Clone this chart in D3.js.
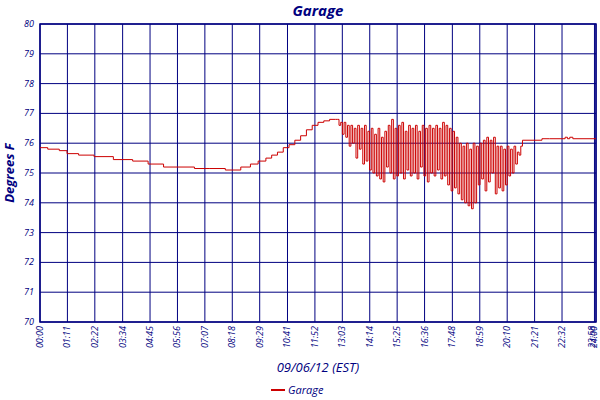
<!DOCTYPE html>
<html><head><meta charset="utf-8">
<script src="https://cdn.jsdelivr.net/npm/d3@7"></script>
<style>body{margin:0;background:#fff}text{font-family:"Open Sans",sans-serif;font-style:italic;fill:#000080}</style>
</head><body><div class="chart"></div>
<script>
// minutes since midnight, degrees F (smooth part)
var calmTimes = [0, 20, 50, 70, 100, 140, 190, 240, 280, 320, 360, 400, 440, 480, 520, 545, 565, 585, 600, 615, 630, 645, 660, 675, 690, 705, 720, 735, 750, 765];
var calmTemps = [75.85, 75.8, 75.75, 75.65, 75.6, 75.55, 75.45, 75.4, 75.3, 75.2, 75.2, 75.15, 75.15, 75.1, 75.2, 75.3, 75.4, 75.5, 75.6, 75.7, 75.85, 75.95, 76.1, 76.25, 76.45, 76.6, 76.7, 76.75, 76.8, 76.8];
// oscillating part, one reading every 4.4 minutes from 12:50
var swingStart = 770, swingStep = 4.4;
var swingTemps = [76.8, 76.6, 76.7, 76.3, 76.7, 76.2, 76.6, 75.9, 76.6, 76.0, 76.5, 75.5, 76.6, 75.8, 76.5, 75.3, 76.6, 75.4, 76.4, 75.1, 76.5, 75.0, 76.3, 74.9, 76.5, 74.8, 76.2, 74.7, 76.4, 75.2,
  76.6, 75.0, 76.8, 74.8, 76.5, 74.9, 76.6, 75.0, 76.7, 74.8, 76.4, 75.1, 76.6, 74.9, 76.5, 75.0, 76.6, 74.8, 76.4, 75.2, 76.6, 74.9, 76.5, 74.7, 76.6, 75.0, 76.5, 74.9, 76.6, 75.1,
  76.5, 74.8, 76.7, 74.9, 76.6, 74.6, 76.5, 74.4, 76.4, 74.5, 76.2, 74.3, 76.0, 74.1, 75.9, 74.0, 76.0, 73.9, 75.8, 73.8, 76.0, 74.0, 75.9, 74.6, 76.0, 74.8, 76.1, 74.4, 76.2, 74.7,
  76.1, 75.0, 76.2, 74.3, 75.9, 74.5, 75.9, 74.4, 75.8, 74.6, 75.9, 74.9, 75.8, 75.0, 75.9, 75.3, 75.7, 75.6, 75.9, 76.1];
var tailTimes = [1300, 1320, 1360, 1366, 1372, 1380, 1440];
var tailTemps = [76.15, 76.15, 76.2, 76.15, 76.2, 76.15, 76.15];
var yTicks = [70, 71, 72, 73, 74, 75, 76, 77, 78, 79, 80];
var xTickLabels = ["00:00", "01:11", "02:22", "03:34", "04:45", "05:56", "07:07", "08:18", "09:29", "10:41", "11:52", "13:03", "14:14", "15:25", "16:36", "17:48", "18:59", "20:10", "21:21", "22:32", "23:58", "24:00"];
var xTickMinutes = [0, 71, 142, 214, 285, 356, 427, 498, 569, 641, 712, 783, 854, 925, 996, 1068, 1139, 1210, 1281, 1352, 1436, 1440];

var data = [];
calmTimes.forEach(function(t, i) { data.push([t, calmTemps[i]]); });
swingTemps.forEach(function(v, i) { data.push([swingStart + i * swingStep, v]); });
tailTimes.forEach(function(t, i) { data.push([t, tailTemps[i]]); });

var margin = {top: 24, right: 4, bottom: 78, left: 40},
    width = 600 - margin.left - margin.right,
    height = 400 - margin.top - margin.bottom;

var svg = d3.select('.chart').append('svg').attr('width', 600).attr('height', 400);
var g = svg.append('g').attr('transform', 'translate(' + margin.left + ',' + margin.top + ')');

var x = d3.scaleLinear().domain([0, 1440]).range([0, width]);
var y = d3.scaleLinear().domain([70, 80]).range([height, 0]);

g.selectAll('.hg').data(yTicks).enter().append('line')
    .attr('x1', 0).attr('x2', width).attr('y1', d => y(d)).attr('y2', d => y(d))
    .attr('stroke', '#000080').attr('stroke-width', 1);
g.selectAll('.vg').data(xTickMinutes).enter().append('line')
    .attr('y1', 0).attr('y2', height).attr('x1', d => x(d)).attr('x2', d => x(d))
    .attr('stroke', '#000080').attr('stroke-width', 1);
g.append('rect').attr('width', width).attr('height', height)
    .attr('fill', 'none').attr('stroke', '#000080').attr('stroke-width', 1.5);

g.selectAll('.yl').data(yTicks).enter().append('text')
    .attr('x', -6).attr('y', d => y(d) + 3).attr('text-anchor', 'end')
    .style('font-size', '9px').text(d => d);
g.selectAll('.xl').data(xTickMinutes).enter().append('text')
    .attr('transform', (d, i) => 'translate(' + (x(d) + (d > 1400 ? 1 : 3)) + ',' + (height + 4) + ') rotate(-90)')
    .attr('text-anchor', 'end').style('font-size', '9px').text((d, i) => xTickLabels[i]);

var line = d3.line().x(d => x(d[0])).y(d => y(d[1])).curve(d3.curveStepAfter);
g.append('path').datum(data).attr('d', line)
    .attr('fill', 'none').attr('stroke', '#cc0000').attr('stroke-width', 1);

svg.append('text').attr('x', 318).attr('y', 16).attr('text-anchor', 'middle')
    .style('font-size', '15px').style('font-weight', 'bold').text('Garage');
svg.append('text').attr('transform', 'translate(14,' + (margin.top + height / 2) + ') rotate(-90)')
    .attr('text-anchor', 'middle').style('font-size', '13px').style('font-weight', 'bold').text('Degrees F');
svg.append('text').attr('x', 318).attr('y', 372).attr('text-anchor', 'middle')
    .style('font-size', '13px').text('09/06/12 (EST)');
svg.append('line').attr('x1', 271).attr('x2', 285).attr('y1', 390).attr('y2', 390)
    .attr('stroke', '#cc0000').attr('stroke-width', 2);
svg.append('text').attr('x', 288).attr('y', 394).style('font-size', '11px').text('Garage');
</script></body></html>
